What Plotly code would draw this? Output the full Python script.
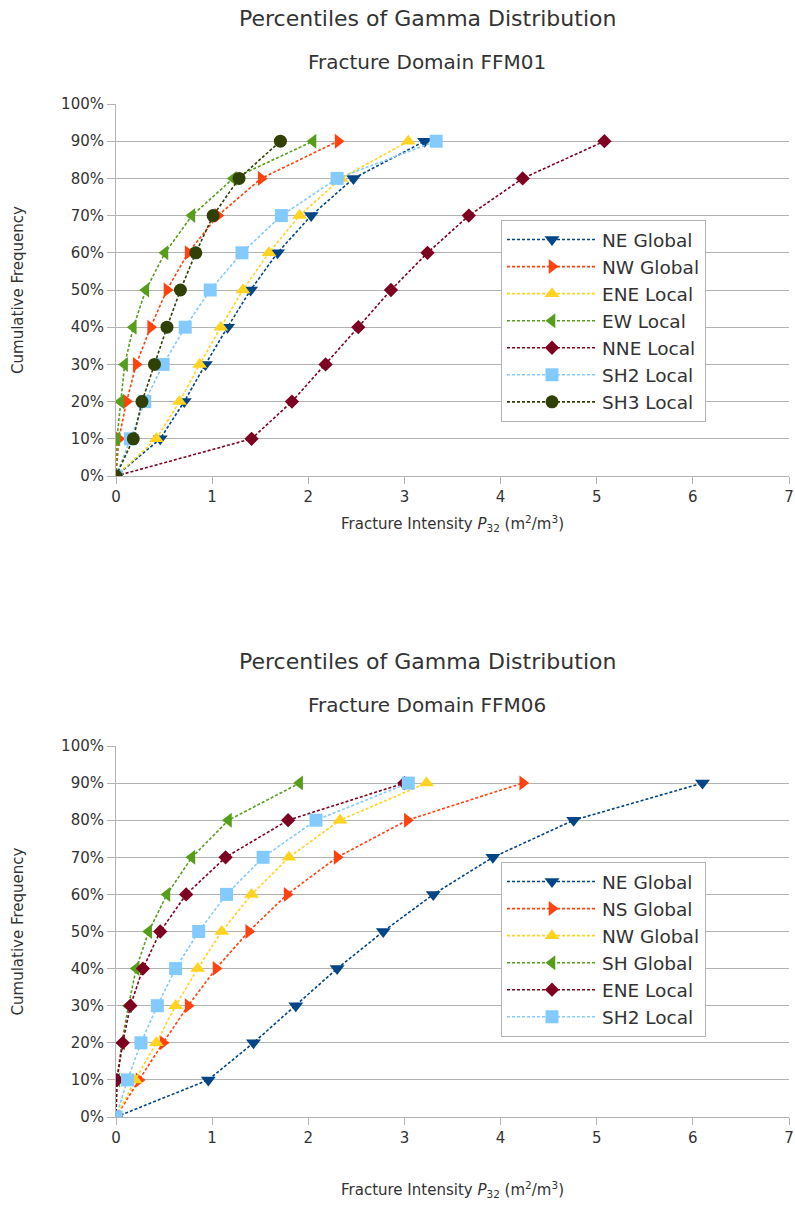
import plotly.graph_objects as go

# Cumulative frequency levels (fractions)
percentiles = [0.0, 0.1, 0.2, 0.3, 0.4, 0.5, 0.6, 0.7, 0.8, 0.9]

# Fracture Domain FFM01 - P32 values at each percentile
ffm01_ne_global = [0, 0.46, 0.71, 0.93, 1.16, 1.40, 1.68, 2.03, 2.47, 3.21]
ffm01_nw_global = [0, 0.03, 0.11, 0.21, 0.36, 0.53, 0.75, 1.06, 1.51, 2.31]
ffm01_ene_local = [0, 0.42, 0.66, 0.87, 1.09, 1.32, 1.59, 1.91, 2.34, 3.04]
ffm01_ew_local = [0, 0.01, 0.05, 0.09, 0.18, 0.31, 0.51, 0.79, 1.22, 2.05]
ffm01_nne_local = [0, 1.41, 1.83, 2.18, 2.52, 2.86, 3.24, 3.67, 4.23, 5.08]
ffm01_sh2_local = [0, 0.15, 0.30, 0.49, 0.72, 0.98, 1.31, 1.72, 2.30, 3.33]
ffm01_sh3_local = [0, 0.18, 0.27, 0.40, 0.53, 0.67, 0.83, 1.01, 1.28, 1.71]

# Fracture Domain FFM06 - P32 values at each percentile
ffm06_ne_global = [0, 0.96, 1.43, 1.87, 2.30, 2.78, 3.30, 3.92, 4.76, 6.10]
ffm06_ns_global = [0, 0.24, 0.49, 0.75, 1.04, 1.38, 1.78, 2.30, 3.03, 4.23]
ffm06_nw_global = [0, 0.20, 0.42, 0.62, 0.85, 1.10, 1.41, 1.80, 2.33, 3.23]
ffm06_sh_global = [0, 0.01, 0.06, 0.13, 0.21, 0.34, 0.53, 0.79, 1.17, 1.91]
ffm06_ene_local = [0, 0.01, 0.07, 0.15, 0.28, 0.46, 0.73, 1.14, 1.79, 3.00]
ffm06_sh2_local = [0, 0.12, 0.26, 0.43, 0.62, 0.86, 1.15, 1.53, 2.08, 3.04]

x_ticks = [0, 1, 2, 3, 4, 5, 6, 7]

BLUE = "#004586"
ORANGE = "#ff420e"
YELLOW = "#ffd320"
GREEN = "#579d1c"
MAROON = "#7e0021"
SKY = "#83caff"
OLIVE = "#314004"

top_series = [
    ("NE Global", ffm01_ne_global, BLUE, "triangle-down"),
    ("NW Global", ffm01_nw_global, ORANGE, "triangle-right"),
    ("ENE Local", ffm01_ene_local, YELLOW, "triangle-up"),
    ("EW Local", ffm01_ew_local, GREEN, "triangle-left"),
    ("NNE Local", ffm01_nne_local, MAROON, "diamond"),
    ("SH2 Local", ffm01_sh2_local, SKY, "square"),
    ("SH3 Local", ffm01_sh3_local, OLIVE, "circle"),
]
bottom_series = [
    ("NE Global", ffm06_ne_global, BLUE, "triangle-down"),
    ("NS Global", ffm06_ns_global, ORANGE, "triangle-right"),
    ("NW Global", ffm06_nw_global, YELLOW, "triangle-up"),
    ("SH Global", ffm06_sh_global, GREEN, "triangle-left"),
    ("ENE Local", ffm06_ene_local, MAROON, "diamond"),
    ("SH2 Local", ffm06_sh2_local, SKY, "square"),
]

MARKER_SIZE = {"diamond": 11}

W, H = 795, 1208
FONT = "DejaVu Sans, Liberation Sans, sans-serif"
TXT = "#333333"
GRID = "#b3b3b3"


def px_x(p):
    return p / W


def px_y(p):
    return 1 - p / H


fig = go.Figure()


def add_series(series, xa, ya, leg):
    for name, vals, col, sym in series:
        fig.add_trace(go.Scatter(
            x=vals, y=percentiles, name=name, mode="lines+markers",
            line=dict(color=col, width=1.6, dash="3px,2px"),
            marker=dict(symbol=sym, size=MARKER_SIZE.get(sym, 13), color=col),
            xaxis=xa, yaxis=ya, legend=leg,
        ))


add_series(top_series, "x", "y", "legend")
add_series(bottom_series, "x2", "y2", "legend2")

x_title = "Fracture Intensity <i>P</i><sub>32</sub> (m<sup>2</sup>/m<sup>3</sup>)"


def x_axis(anchor, standoff):
    return dict(
        range=[0, 7], tickvals=x_ticks, showgrid=False, zeroline=False,
        showline=True, linecolor=GRID, linewidth=1,
        ticks="outside", ticklen=7, tickcolor=GRID, automargin=False,
        tickfont=dict(family=FONT, size=15, color=TXT),
        title=dict(text=x_title, font=dict(family=FONT, size=15, color=TXT), standoff=standoff),
        domain=[px_x(116), px_x(789)], anchor=anchor,
    )


def y_axis(anchor, top_px, bottom_px):
    return dict(
        range=[0, 1], dtick=0.1, tickformat=".0%", showgrid=True, gridcolor=GRID,
        gridwidth=1, zeroline=False, showline=True, linecolor=GRID, linewidth=1,
        ticks="outside", ticklen=8, tickcolor=GRID, automargin=False,
        tickfont=dict(family=FONT, size=15, color=TXT),
        title=dict(text="Cumulative Frequency", font=dict(family=FONT, size=15, color=TXT), standoff=33),
        domain=[px_y(bottom_px), px_y(top_px)], anchor=anchor,
    )


legend_common = dict(
    bgcolor="white", bordercolor=GRID, borderwidth=1,
    font=dict(family=FONT, size=18.5, color=TXT),
    xanchor="left", yanchor="top", itemwidth=90,
    tracegroupgap=0,
)

fig.update_layout(
    width=W, height=H,
    margin=dict(l=0, r=0, t=0, b=0),
    paper_bgcolor="white", plot_bgcolor="white",
    xaxis=x_axis("y", 13),
    yaxis=y_axis("x", 104, 476),
    xaxis2=x_axis("y2", 38),
    yaxis2=y_axis("x2", 746, 1117),
    legend=dict(legend_common, x=px_x(501), y=px_y(220)),
    legend2=dict(legend_common, x=px_x(501), y=px_y(862)),
    showlegend=True,
)

# Chart titles and subtitles
for title_y, sub_y, sub in [(18, 62, "Fracture Domain FFM01"), (661, 705, "Fracture Domain FFM06")]:
    fig.add_annotation(
        text="Percentiles of Gamma Distribution", x=px_x(427), y=px_y(title_y),
        xref="paper", yref="paper", showarrow=False, xanchor="center", yanchor="middle",
        font=dict(family=FONT, size=22, color=TXT),
    )
    fig.add_annotation(
        text=sub, x=px_x(427), y=px_y(sub_y),
        xref="paper", yref="paper", showarrow=False, xanchor="center", yanchor="middle",
        font=dict(family=FONT, size=20, color=TXT),
    )

fig.write_html("out.html", post_script="document.body.style.margin='0px';")
